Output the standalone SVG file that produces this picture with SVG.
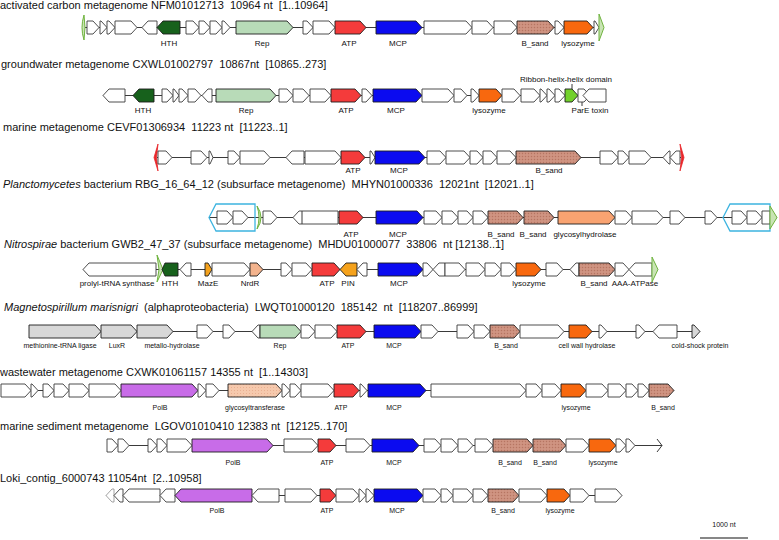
<svg xmlns="http://www.w3.org/2000/svg" width="779" height="540" viewBox="0 0 779 540">
<defs>
<pattern id="dots" width="3" height="3" patternUnits="userSpaceOnUse"><rect width="3" height="3" fill="#cc8f7c"/><rect x="0" y="0" width="1" height="1" fill="#b57563"/><rect x="1.5" y="1.5" width="1" height="1" fill="#dba593"/></pattern>
<pattern id="dots2" width="3" height="3" patternUnits="userSpaceOnUse"><rect width="3" height="3" fill="#f6c9ad"/><rect x="0" y="0" width="1" height="1" fill="#e9b092"/></pattern>
<style>
.g{fill:#fff;stroke:#3a3a3a;stroke-width:0.9}
.c{stroke:#1e1e1e;stroke-width:0.9}
.hth{fill:#17611c}
.rep{fill:#b8dbb8}
.atp{fill:#f43b3b}
.mcp{fill:#0b0bf0}
.sand{fill:url(#dots)}
.lys{fill:#f8680e}
.gh{fill:#f9a371}
.polb{fill:#c86ce8}
.gt{fill:url(#dots2)}
.gray{fill:#d8d8d8}
.pin{fill:#f5a21c}
.nrdr{fill:#f3b38d}
.pare{fill:#72d12c}
.lt{fill:#fff;stroke:#999;stroke-width:0.9}
.bb{stroke:#3a3a3a;stroke-width:1;fill:none}
.cy{fill:none;stroke:#3db4e0;stroke-width:1.3}
.gm{fill:#c9e4b4;stroke:#6fb33e;stroke-width:1}
.rm{fill:#e8262a;stroke:#e8262a;stroke-width:0.8}
.t{font-family:"Liberation Sans",Arial,sans-serif;font-size:11px;fill:#111;white-space:pre}
.l{font-family:"Liberation Sans",Arial,sans-serif;font-size:8px;fill:#111;text-anchor:middle}
.s{font-size:7px}
</style>
</defs>
<rect width="779" height="540" fill="#fff"/>

<g id="connectors">
<line class="bb" x1="83" y1="27.5" x2="599" y2="27.5"/>
<line class="bb" x1="103" y1="95.5" x2="606" y2="95.5"/>
<line class="bb" x1="157" y1="157.5" x2="681" y2="157.5"/>
<line class="bb" x1="209" y1="217.5" x2="777" y2="217.5"/>
<line class="bb" x1="83" y1="269.5" x2="658" y2="269.5"/>
<line class="bb" x1="29" y1="331.5" x2="700" y2="331.5"/>
<line class="bb" x1="1" y1="390.5" x2="674" y2="390.5"/>
<line class="bb" x1="107" y1="445.5" x2="662" y2="445.5"/>
<line class="bb" x1="106" y1="495.5" x2="622" y2="495.5"/>
<line class="bb" x1="572" y1="84" x2="572" y2="89"/>
<line class="bb" x1="582" y1="102" x2="582" y2="106"/>
<line class="bb" x1="302" y1="211" x2="302" y2="224"/>
</g>

<g id="track1">
<text class="t" x="0" y="9">activated carbon metagenome NFM01012713  10964 nt  [1..10964]</text>
<path class="gm" d="M84,15 Q80,27.5 84,40 Q86,27.5 84,15 Z"/>
<polygon class="g" points="87,21 93,21 99,27.5 93,34 87,34"/>
<polygon class="g" points="100,21 101,21 107,27.5 101,34 100,34"/>
<polygon class="g" points="107,21 109,21 115,27.5 109,34 107,34"/>
<polygon class="g" points="115,21 131,21 137,27.5 131,34 115,34"/>
<polygon class="g" points="157,21 148,21 142,27.5 148,34 157,34"/>
<polygon class="hth c" points="180,21 163,21 157,27.5 163,34 180,34"/>
<polygon class="g" points="186,21 193,21 199,27.5 193,34 186,34"/>
<polygon class="g" points="199,21 204,21 210,27.5 204,34 199,34"/>
<polygon class="g" points="210,21 216,21 222,27.5 216,34 210,34"/>
<polygon class="g" points="222,21 224,21 230,27.5 224,34 222,34"/>
<polygon class="rep c" points="236,21 287,21 293,27.5 287,34 236,34"/>
<polygon class="g" points="303,21 307,21 313,27.5 307,34 303,34"/>
<polygon class="g" points="313,21 329,21 335,27.5 329,34 313,34"/>
<polygon class="atp c" points="335,21 360,21 366,27.5 360,34 335,34"/>
<polygon class="mcp c" points="376,21 416,21 422,27.5 416,34 376,34"/>
<polygon class="g" points="424,21 466,21 472,27.5 466,34 424,34"/>
<polygon class="g" points="472,21 487,21 493,27.5 487,34 472,34"/>
<polygon class="g" points="494,21 511,21 517,27.5 511,34 494,34"/>
<polygon class="sand c" points="517,21 548,21 554,27.5 548,34 517,34"/>
<polygon class="g" points="555,21 558,21 564,27.5 558,34 555,34"/>
<polygon class="lys c" points="564,21 587,21 593,27.5 587,34 564,34"/>
<polygon class="g" points="594,21 595,21 599,27.5 595,34 594,34"/>
<path class="gm" d="M599,14 L604,27.5 L599,41 Z"/>
<text class="l" x="169" y="46">HTH</text>
<text class="l" x="262" y="46">Rep</text>
<text class="l" x="349" y="46">ATP</text>
<text class="l" x="398" y="46">MCP</text>
<text class="l" x="535" y="46">B_sand</text>
<text class="l" x="578" y="46">lysozyme</text>
</g>

<g id="track2">
<text class="t" x="1" y="68">groundwater metagenome CXWL01002797  10867nt  [10865..273]</text>
<polygon class="g" points="125,89 109,89 103,95.5 109,102 125,102"/>
<polygon class="hth c" points="154,89 139,89 133,95.5 139,102 154,102"/>
<polygon class="g" points="162,89 167,89 173,95.5 167,102 162,102"/>
<polygon class="g" points="173,89 174,89 179,95.5 174,102 173,102"/>
<polygon class="g" points="179,89 182,89 188,95.5 182,102 179,102"/>
<polygon class="g" points="188,89 195,89 201,95.5 195,102 188,102"/>
<polygon class="g" points="212,89 208,89 202,95.5 208,102 212,102"/>
<polygon class="rep c" points="216,89 270,89 276,95.5 270,102 216,102"/>
<polygon class="g" points="279,89 287,89 293,95.5 287,102 279,102"/>
<polygon class="g" points="293,89 303,89 309,95.5 303,102 293,102"/>
<polygon class="g" points="310,89 325,89 331,95.5 325,102 310,102"/>
<polygon class="atp c" points="331,89 355,89 361,95.5 355,102 331,102"/>
<polygon class="g" points="362,89 366,89 372,95.5 366,102 362,102"/>
<polygon class="mcp c" points="373,89 416,89 422,95.5 416,102 373,102"/>
<polygon class="g" points="422,89 448,89 454,95.5 448,102 422,102"/>
<polygon class="g" points="454,89 461,89 467,95.5 461,102 454,102"/>
<polygon class="g" points="471,89 473,89 479,95.5 473,102 471,102"/>
<polygon class="lys c" points="479,89 496,89 502,95.5 496,102 479,102"/>
<polygon class="g" points="502,89 514,89 520,95.5 514,102 502,102"/>
<polygon class="g" points="521,89 534,89 540,95.5 534,102 521,102"/>
<polygon class="g" points="540,89 541,89 547,95.5 541,102 540,102"/>
<polygon class="g" points="547,89 549,89 555,95.5 549,102 547,102"/>
<polygon class="g" points="555,89 559,89 565,95.5 559,102 555,102"/>
<polygon class="pare c" points="565,89 572,89 578,95.5 572,102 565,102"/>
<polygon class="g" points="578,89 584,89 590,95.5 584,102 578,102"/>
<polygon class="g" points="606,89 589,89 583,95.5 589,102 606,102"/>
<text class="l" x="143" y="113">HTH</text>
<text class="l" x="246" y="113">Rep</text>
<text class="l" x="346" y="113">ATP</text>
<text class="l" x="396" y="113">MCP</text>
<text class="l" x="489" y="113">lysozyme</text>
<text class="l" x="566" y="82">Ribbon-helix-helix domain</text>
<text class="l" x="590" y="113">ParE toxin</text>
</g>

<g id="track3">
<text class="t" x="3" y="131">marine metagenome CEVF01306934  11223 nt  [11223..1]</text>
<path class="rm" d="M158,144 L154,157.5 L158,171 L156.5,157.5 Z"/>
<polygon class="g" points="158,151 166,151 172,157.5 166,164 158,164"/>
<polygon class="g" points="191,151 201,151 207,157.5 201,164 191,164"/>
<polygon class="g" points="209,151 210,151 213,157.5 210,164 209,164"/>
<polygon class="g" points="228,151 234,151 240,157.5 234,164 228,164"/>
<polygon class="g" points="240,151 264,151 270,157.5 264,164 240,164"/>
<polygon class="g" points="304,151 292,151 286,157.5 292,164 304,164"/>
<polygon class="g" points="305,151 335,151 341,157.5 335,164 305,164"/>
<polygon class="atp c" points="341,151 359,151 365,157.5 359,164 341,164"/>
<polygon class="g" points="370,151 371,151 375,157.5 371,164 370,164"/>
<polygon class="mcp c" points="375,151 419,151 425,157.5 419,164 375,164"/>
<polygon class="g" points="427,151 440,151 446,157.5 440,164 427,164"/>
<polygon class="g" points="446,151 464,151 470,157.5 464,164 446,164"/>
<polygon class="g" points="470,151 477,151 483,157.5 477,164 470,164"/>
<polygon class="g" points="483,151 491,151 497,157.5 491,164 483,164"/>
<polygon class="g" points="497,151 510,151 516,157.5 510,164 497,164"/>
<polygon class="sand c" points="516,151 575,151 581,157.5 575,164 516,164"/>
<polygon class="g" points="600,151 612,151 618,157.5 612,164 600,164"/>
<polygon class="g" points="618,151 623,151 629,157.5 623,164 618,164"/>
<polygon class="g" points="629,151 645,151 651,157.5 645,164 629,164"/>
<polygon class="g" points="670,151 669,151 663,157.5 669,164 670,164"/>
<polygon class="g" points="680,151 676,151 670,157.5 676,164 680,164"/>
<path class="rm" d="M680,144 L684,157.5 L680,171 L681.5,157.5 Z"/>
<text class="l" x="353" y="173">ATP</text>
<text class="l" x="399" y="173">MCP</text>
<text class="l" x="549" y="173">B_sand</text>
</g>

<g id="track4">
<text class="t" x="3" y="188"><tspan font-style="italic">Planctomycetes</tspan> bacterium RBG_16_64_12 (subsurface metagenome)  MHYN01000336  12021nt  [12021..1]</text>
<polygon class="cy" points="209,217.5 216,204 255,204 255,231 216,231"/>
<polygon class="g" points="217,211 227,211 233,217.5 227,224 217,224"/>
<polygon class="g" points="233,211 242,211 248,217.5 242,224 233,224"/>
<path class="gm" d="M257,206 Q265,217.5 257,229 Q261,217.5 257,206 Z"/>
<polygon class="g" points="263,211 271,211 277,217.5 271,224 263,224"/>
<polygon class="g" points="338,211 299,211 293,217.5 299,224 338,224"/>
<line class="bb" x1="302" y1="211" x2="302" y2="224"/>
<polygon class="atp c" points="339,211 357,211 363,217.5 357,224 339,224"/>
<polygon class="mcp c" points="376,211 417,211 423,217.5 417,224 376,224"/>
<polygon class="g" points="424,211 436,211 442,217.5 436,224 424,224"/>
<polygon class="g" points="442,211 452,211 458,217.5 452,224 442,224"/>
<polygon class="g" points="458,211 467,211 473,217.5 467,224 458,224"/>
<polygon class="g" points="473,211 482,211 488,217.5 482,224 473,224"/>
<polygon class="sand c" points="488,211 517,211 523,217.5 517,224 488,224"/>
<polygon class="sand c" points="524,211 548,211 554,217.5 548,224 524,224"/>
<polygon class="gh c" points="558,211 609,211 615,217.5 609,224 558,224"/>
<polygon class="g" points="615,211 626,211 632,217.5 626,224 615,224"/>
<polygon class="g" points="632,211 657,211 663,217.5 657,224 632,224"/>
<polygon class="g" points="670,211 679,211 685,217.5 679,224 670,224"/>
<polygon class="g" points="705,211 711,211 717,217.5 711,224 705,224"/>
<polygon class="cy" points="723,217.5 730,204 770,204 770,231 730,231"/>
<polygon class="g" points="732,211 741,211 747,217.5 741,224 732,224"/>
<polygon class="g" points="747,211 756,211 762,217.5 756,224 747,224"/>
<polygon class="g" points="762,211 770,211 770,224 762,224"/>
<path class="gm" d="M770,206 L777,217.5 L770,229 Z"/>
<text class="l" x="351" y="237">ATP</text>
<text class="l" x="398" y="237">MCP</text>
<text class="l" x="501" y="237">B_sand</text>
<text class="l" x="533" y="237">B_sand</text>
<text class="l" x="585" y="237">glycosylhydrolase</text>
</g>

<g id="track5">
<text class="t" x="4" y="248"><tspan font-style="italic">Nitrospirae</tspan> bacterium GWB2_47_37 (subsurface metagenome)  MHDU01000077  33806  nt [12138..1]</text>
<polygon class="g" points="156,263 89,263 83,269.5 89,276 156,276"/>
<path class="gm" d="M157,255 L163,269.5 L157,282 L159,269.5 Z"/>
<polygon class="hth c" points="178,263 165,263 162,269.5 165,276 178,276"/>
<polygon class="g" points="191,263 186,263 180,269.5 186,276 191,276"/>
<polygon class="pin c" points="205,263 208,263 212,269.5 208,276 205,276"/>
<polygon class="g" points="212,263 244,263 250,269.5 244,276 212,276"/>
<polygon class="nrdr c" points="250,263 257,263 263,269.5 257,276 250,276"/>
<polygon class="g" points="281,263 286,263 292,269.5 286,276 281,276"/>
<polygon class="g" points="292,263 306,263 312,269.5 306,276 292,276"/>
<polygon class="atp c" points="312,263 334,263 340,269.5 334,276 312,276"/>
<polygon class="pin c" points="357,263 346,263 340,269.5 346,276 357,276"/>
<polygon class="g" points="367,263 363,263 357,269.5 363,276 367,276"/>
<polygon class="mcp c" points="378,263 417,263 423,269.5 417,276 378,276"/>
<polygon class="g" points="423,263 427,263 433,269.5 427,276 423,276"/>
<polygon class="g" points="445,263 439,263 433,269.5 439,276 445,276"/>
<polygon class="g" points="445,263 459,263 465,269.5 459,276 445,276"/>
<polygon class="g" points="466,263 479,263 485,269.5 479,276 466,276"/>
<polygon class="g" points="485,263 495,263 501,269.5 495,276 485,276"/>
<polygon class="g" points="501,263 510,263 516,269.5 510,276 501,276"/>
<polygon class="lys c" points="516,263 535,263 541,269.5 535,276 516,276"/>
<polygon class="g" points="546,263 557,263 563,269.5 557,276 546,276"/>
<polygon class="g" points="579,263 576,263 570,269.5 576,276 579,276"/>
<polygon class="sand c" points="579,263 609,263 615,269.5 609,276 579,276"/>
<polygon class="g" points="615,263 623,263 629,269.5 623,276 615,276"/>
<polygon class="g" points="652,263 635,263 629,269.5 635,276 652,276"/>
<path class="gm" d="M652,257 L658,269.5 L652,282 Z"/>
<text class="l" x="117" y="286">prolyl-tRNA synthase</text>
<text class="l" x="170" y="286" font-size="9">HTH</text>
<text class="l" x="208" y="286">MazE</text>
<text class="l" x="250" y="286">NrdR</text>
<text class="l" x="327" y="286">ATP</text>
<text class="l" x="348" y="286">PIN</text>
<text class="l" x="399" y="286">MCP</text>
<text class="l" x="529" y="286">lysozyme</text>
<text class="l" x="594" y="286">B_sand</text>
<text class="l" x="635" y="286">AAA-ATPase</text>
</g>

<g id="track6">
<text class="t" x="4" y="311"><tspan font-style="italic">Magnetospirillum marisnigri</tspan>  (alphaproteobacteria)  LWQT01000120  185142  nt  [118207..86999]</text>
<polygon class="gray c" points="29,325 95,325 101,331.5 95,338 29,338"/>
<polygon class="gray c" points="101,325 131,325 137,331.5 131,338 101,338"/>
<polygon class="gray c" points="137,325 167,325 173,331.5 167,338 137,338"/>
<polygon class="g" points="197,325 207,325 213,331.5 207,338 197,338"/>
<polygon class="g" points="223,325 229,325 235,331.5 229,338 223,338"/>
<polygon class="g" points="260,325 258,325 252,331.5 258,338 260,338"/>
<polygon class="rep c" points="260,325 295,325 301,331.5 295,338 260,338"/>
<polygon class="g" points="301,325 309,325 315,331.5 309,338 301,338"/>
<polygon class="g" points="315,325 331,325 337,331.5 331,338 315,338"/>
<polygon class="atp c" points="337,325 360,325 366,331.5 360,338 337,338"/>
<polygon class="mcp c" points="374,325 415,325 421,331.5 415,338 374,338"/>
<polygon class="g" points="421,325 432,325 438,331.5 432,338 421,338"/>
<polygon class="g" points="457,325 468,325 474,331.5 468,338 457,338"/>
<polygon class="g" points="474,325 484,325 490,331.5 484,338 474,338"/>
<polygon class="sand c" points="490,325 514,325 520,331.5 514,338 490,338"/>
<polygon class="g" points="520,325 558,325 564,331.5 558,338 520,338"/>
<polygon class="lys c" points="569,325 586,325 592,331.5 586,338 569,338"/>
<polygon class="g" points="599,325 601,325 607,331.5 601,338 599,338"/>
<polygon class="g" points="636,325 639,325 645,331.5 639,338 636,338"/>
<polygon class="g" points="677,325 659,325 653,331.5 659,338 677,338"/>
<polygon class="gray c" points="692,325 694,325 700,331.5 694,338 692,338"/>
<text class="l s" x="60" y="348">methionine-tRNA ligase</text>
<text class="l s" x="117" y="348">LuxR</text>
<text class="l s" x="172" y="348">metallo-hydrolase</text>
<text class="l s" x="280" y="348">Rep</text>
<text class="l s" x="348" y="348">ATP</text>
<text class="l s" x="394" y="348">MCP</text>
<text class="l s" x="506" y="348">B_sand</text>
<text class="l s" x="587" y="348">cell wall hydrolase</text>
<text class="l s" x="700" y="348">cold-shock protein</text>
</g>

<g id="track7">
<text class="t" x="0" y="376">wastewater metagenome CXWK01061157 14355 nt  [1..14303]</text>
<polygon class="g" points="1,384 25,384 31,390.5 25,397 1,397"/>
<polygon class="g" points="31,384 32,384 38,390.5 32,397 31,397"/>
<polygon class="g" points="43,384 48,384 54,390.5 48,397 43,397"/>
<polygon class="g" points="54,384 63,384 69,390.5 63,397 54,397"/>
<polygon class="g" points="69,384 83,384 89,390.5 83,397 69,397"/>
<polygon class="g" points="89,384 115,384 121,390.5 115,397 89,397"/>
<polygon class="polb c" points="121,384 192,384 198,390.5 192,397 121,397"/>
<polygon class="g" points="198,384 200,384 206,390.5 200,397 198,397"/>
<polygon class="g" points="206,384 213,384 219,390.5 213,397 206,397"/>
<polygon class="gt c" points="228,384 276,384 282,390.5 276,397 228,397"/>
<polygon class="g" points="282,384 284,384 290,390.5 284,397 282,397"/>
<polygon class="g" points="290,384 295,384 301,390.5 295,397 290,397"/>
<polygon class="g" points="301,384 328,384 334,390.5 328,397 301,397"/>
<polygon class="atp c" points="334,384 353,384 359,390.5 353,397 334,397"/>
<polygon class="g" points="360,384 361,384 367,390.5 361,397 360,397"/>
<polygon class="mcp c" points="368,384 420,384 426,390.5 420,397 368,397"/>
<polygon class="g" points="431,384 520,384 526,390.5 520,397 431,397"/>
<polygon class="g" points="526,384 536,384 542,390.5 536,397 526,397"/>
<polygon class="g" points="542,384 555,384 561,390.5 555,397 542,397"/>
<polygon class="lys c" points="561,384 580,384 586,390.5 580,397 561,397"/>
<polygon class="g" points="586,384 602,384 608,390.5 602,397 586,397"/>
<polygon class="g" points="608,384 620,384 626,390.5 620,397 608,397"/>
<polygon class="g" points="626,384 632,384 638,390.5 632,397 626,397"/>
<polygon class="g" points="638,384 643,384 649,390.5 643,397 638,397"/>
<polygon class="sand c" points="649,384 668,384 674,390.5 668,397 649,397"/>
<text class="l s" x="160" y="410">PolB</text>
<text class="l s" x="255" y="410">glycosyltransferase</text>
<text class="l s" x="341" y="410">ATP</text>
<text class="l s" x="394" y="410">MCP</text>
<text class="l s" x="576" y="410">lysozyme</text>
<text class="l s" x="663" y="410">B_sand</text>
</g>

<g id="track8">
<text class="t" x="0" y="430">marine sediment metagenome  LGOV01010410 12383 nt  [12125..170]</text>
<polygon class="g" points="107,439 112,439 118,445.5 112,452 107,452"/>
<polygon class="g" points="118,439 123,439 129,445.5 123,452 118,452"/>
<polygon class="g" points="148,439 151,439 157,445.5 151,452 148,452"/>
<polygon class="g" points="157,439 161,439 167,445.5 161,452 157,452"/>
<polygon class="g" points="167,439 186,439 192,445.5 186,452 167,452"/>
<polygon class="polb c" points="192,439 267,439 273,445.5 267,452 192,452"/>
<polygon class="g" points="284,439 312,439 318,445.5 312,452 284,452"/>
<polygon class="atp c" points="318,439 330,439 336,445.5 330,452 318,452"/>
<polygon class="g" points="346,439 364,439 370,445.5 364,452 346,452"/>
<polygon class="mcp c" points="372,439 413,439 419,445.5 413,452 372,452"/>
<polygon class="g" points="424,439 435,439 441,445.5 435,452 424,452"/>
<polygon class="g" points="441,439 452,439 458,445.5 452,452 441,452"/>
<polygon class="g" points="458,439 467,439 473,445.5 467,452 458,452"/>
<polygon class="g" points="475,439 487,439 493,445.5 487,452 475,452"/>
<polygon class="sand c" points="493,439 527,439 533,445.5 527,452 493,452"/>
<polygon class="sand c" points="533,439 560,439 566,445.5 560,452 533,452"/>
<polygon class="g" points="566,439 583,439 589,445.5 583,452 566,452"/>
<polygon class="lys c" points="589,439 610,439 616,445.5 610,452 589,452"/>
<polygon class="g" points="616,439 620,439 626,445.5 620,452 616,452"/>
<polygon class="g" points="626,439 629,439 635,445.5 629,452 626,452"/>
<polyline class="bb" points="657,439 662,445.5 657,452"/>
<text class="l s" x="233" y="465">PolB</text>
<text class="l s" x="327" y="465">ATP</text>
<text class="l s" x="394" y="465">MCP</text>
<text class="l s" x="510" y="465">B_sand</text>
<text class="l s" x="545" y="465">B_sand</text>
<text class="l s" x="603" y="465">lysozyme</text>
</g>

<g id="track9">
<text class="t" x="0" y="482">Loki_contig_6000743 11054nt  [2..10958]</text>
<polygon class="lt" points="114,489 112,489 106,495.5 112,502 114,502"/>
<polygon class="g" points="123,489 120,489 114,495.5 120,502 123,502"/>
<polygon class="g" points="160,489 129,489 123,495.5 129,502 160,502"/>
<polygon class="g" points="175,489 166,489 160,495.5 166,502 175,502"/>
<polygon class="polb c" points="252,489 181,489 175,495.5 181,502 252,502"/>
<polygon class="g" points="279,489 258,489 252,495.5 258,502 279,502"/>
<polygon class="g" points="285,489 311,489 317,495.5 311,502 285,502"/>
<polygon class="atp c" points="320,489 330,489 336,495.5 330,502 320,502"/>
<polygon class="g" points="336,489 353,489 359,495.5 353,502 336,502"/>
<polygon class="g" points="359,489 360,489 366,495.5 360,502 359,502"/>
<polygon class="g" points="366,489 368,489 374,495.5 368,502 366,502"/>
<polygon class="mcp c" points="374,489 417,489 423,495.5 417,502 374,502"/>
<polygon class="g" points="423,489 435,489 441,495.5 435,502 423,502"/>
<polygon class="g" points="441,489 447,489 453,495.5 447,502 441,502"/>
<polygon class="g" points="453,489 467,489 473,495.5 467,502 453,502"/>
<polygon class="g" points="473,489 482,489 488,495.5 482,502 473,502"/>
<polygon class="sand c" points="488,489 513,489 519,495.5 513,502 488,502"/>
<polygon class="g" points="519,489 541,489 547,495.5 541,502 519,502"/>
<polygon class="lys c" points="547,489 564,489 570,495.5 564,502 547,502"/>
<polygon class="g" points="570,489 583,489 589,495.5 583,502 570,502"/>
<polygon class="g" points="595,489 616,489 622,495.5 616,502 595,502"/>
<text class="l s" x="217" y="513">PolB</text>
<text class="l s" x="327" y="513">ATP</text>
<text class="l s" x="397" y="513">MCP</text>
<text class="l s" x="503" y="513">B_sand</text>
<text class="l s" x="560" y="513">lysozyme</text>
</g>

<g id="scale">
<text class="l s" x="724" y="527">1000 nt</text>
<line x1="700" y1="538" x2="748" y2="538" stroke="#111" stroke-width="1.2"/>
</g>
</svg>
